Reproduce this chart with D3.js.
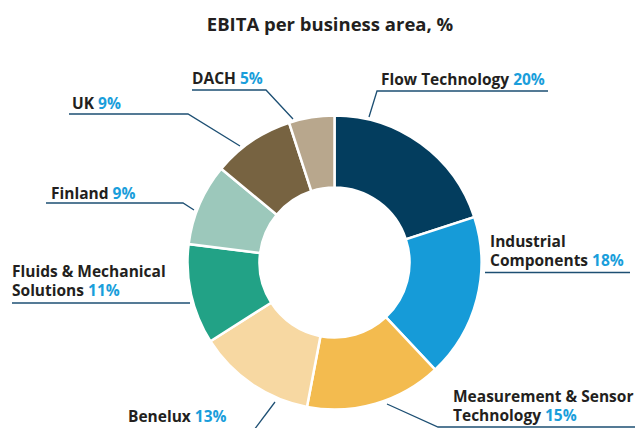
<!DOCTYPE html>
<html>
<head>
<meta charset="utf-8">
<script src="https://cdn.jsdelivr.net/npm/d3@7"></script>
<style>
  html, body { margin: 0; padding: 0; background: #fff; }
  svg { display: block; font-family: "Open Sans", "Noto Sans", sans-serif; }
</style>
</head>
<body>
<div id="chart"></div>
<script>
// data, clockwise from 12 o'clock
const areas = ["Flow Technology", "Industrial Components", "Measurement & Sensor Technology", "Benelux",
    "Fluids & Mechanical Solutions", "Finland", "UK", "DACH"];
const shares = [20, 18, 15, 13, 11, 9, 9, 5];
const colors = ["#033d5e", "#169bd8", "#f3bb4f", "#f7d8a2", "#22a286", "#9cc8bb", "#776341", "#b8a78d"];
// label text lines (last line gets the percentage)
const labelLines = [["Flow Technology"], ["Industrial", "Components"], ["Measurement & Sensor", "Technology"], ["Benelux"],
    ["Fluids & Mechanical", "Solutions"], ["Finland"], ["UK"], ["DACH"]];

const width = 635, height = 428;
const cx = 334.5, cy = 262.5, rOuter = 147, rInner = 75;

const svg = d3.select("#chart").append("svg")
    .attr("width", width)
    .attr("height", height);

svg.append("text")
    .attr("x", 330)
    .attr("y", 31)
    .attr("text-anchor", "middle")
    .attr("fill", "#231f20")
    .style("font-size", "18.5px")
    .style("font-weight", 700)
    .text("EBITA per business area, %");

const pie = d3.pie().sort(null).value(d => d);
const arc = d3.arc().innerRadius(rInner).outerRadius(rOuter);
const arcs = pie(shares);

const g = svg.append("g").attr("transform", `translate(${cx},${cy})`);
g.selectAll("path")
    .data(arcs)
    .join("path")
    .attr("d", arc)
    .attr("fill", (d, i) => colors[i])
    .attr("stroke", "#fff")
    .attr("stroke-width", 2.5);

// label layout: text anchor point and leader polyline (relative to page)
const labelPos = [
    { x: 381, y: 85, line: [[369, 117], [377, 91], [548, 91]] },
    { x: 490, y: 247, line: [[485, 272.5], [630, 272.5]] },
    { x: 453, y: 402, line: [[387, 404], [438, 427], [635, 427]] },
    { x: 128, y: 422, line: [[275, 402], [254, 430]] },
    { x: 12, y: 277, line: [[12, 303], [190, 303]] },
    { x: 51, y: 199, line: [[46, 203], [183, 203], [194, 210]] },
    { x: 72, y: 109, line: [[69, 114], [188, 114], [240, 146]] },
    { x: 192, y: 84, line: [[192, 90], [266, 90], [293, 119]] }
];

const line = d3.line();
svg.selectAll("path.leader")
    .data(labelPos)
    .join("path")
    .attr("class", "leader")
    .attr("d", d => line(d.line))
    .attr("fill", "none")
    .attr("stroke", "#1d4f73")
    .attr("stroke-width", 1.3);

const labels = svg.selectAll("text.lbl")
    .data(areas)
    .join("text")
    .attr("class", "lbl")
    .attr("fill", "#231f20")
    .style("font-size", "15.5px")
    .style("font-weight", 700);

labels.each(function(d, i) {
    const t = d3.select(this);
    const p = labelPos[i];
    const lines = labelLines[i];
    lines.forEach((s, j) => {
        t.append("tspan")
            .attr("x", p.x)
            .attr("y", p.y + j * 18.5)
            .text(s);
        if (j === lines.length - 1) {
            t.append("tspan")
                .attr("fill", "#1a9edb")
                .text(" " + shares[i] + "%");
        }
    });
});
</script>
</body>
</html>
